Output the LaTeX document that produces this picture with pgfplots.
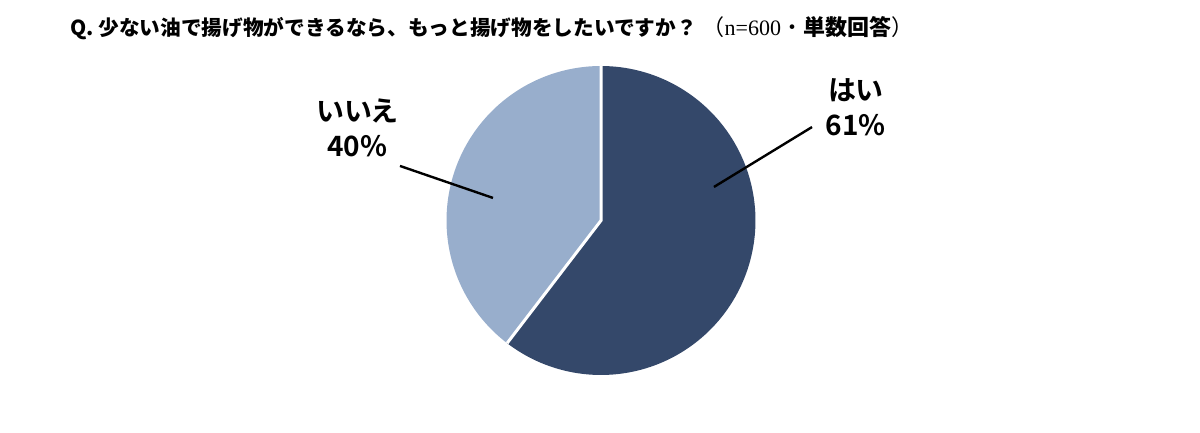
\documentclass[border=0pt]{standalone}
\usepackage{pgfplots}
\pgfplotsset{compat=1.18}
\usepackage{pgfplotstable}
\usepackage{fontspec}
\setmainfont{Noto Sans CJK JP}
\newfontfamily\cjk{Noto Sans CJK JP}
\newfontfamily\cjkp{Noto Sans CJK JP Bold}[RawFeature=+palt]
\newfontfamily\serif{Liberation Serif}
\definecolor{navy}{HTML}{34486A}
\definecolor{pale}{HTML}{98AECC}

% answer shares (labels in the chart read 61 / 40)
\pgfplotstableread{
answer value
yes 61
no 40
}\piedata

\begin{document}
\begin{tikzpicture}
\path[use as bounding box] (0,0) rectangle (600pt,216.5pt);
\node[anchor=west, inner sep=0pt, font=\cjk\bfseries\fontsize{10.33pt}{12pt}\selectfont]
  at (35pt,202.5pt) {Q. 少ない油で揚げ物ができるなら、もっと揚げ物をしたいですか？\hspace{3pt}{\fontsize{11pt}{12pt}\selectfont {\mdseries （{\serif n=600}・}単数回答{\mdseries ）}}};

\pgfplotstablegetelem{0}{value}\of\piedata \let\va\pgfplotsretval
\pgfplotstablegetelem{1}{value}\of\piedata \let\vb\pgfplotsretval
\pgfmathsetmacro\share{\va/(\va+\vb)}
\pgfmathsetmacro\split{90-360*\share}
\pgfmathsetmacro\splitb{\split+360}

\begin{axis}[at={(300.5pt,106.25pt)}, anchor=center,
  scale only axis, width=154.5pt, height=154.5pt,
  hide axis, clip=false,
  xmin=-1, xmax=1, ymin=-1, ymax=1]
  \addplot[fill=navy, draw=none, data cs=polar, domain=\split:90, samples=121]
    (x,1) -- (axis cs:0,0) -- cycle;
  \addplot[fill=pale, draw=none, data cs=polar, domain=90:\splitb, samples=91]
    (x,1) -- (axis cs:0,0) -- cycle;
  \addplot[white, line width=1.5pt, data cs=polar] coordinates {(90,1) (0,0) (\split,1)};

  \draw[black, line width=1.2pt] (axis cs:-1.301,0.353) -- (axis cs:-0.699,0.146);
  \draw[black, line width=1.2pt] (axis cs:1.366,0.605) -- (axis cs:0.731,0.217);
  \node[align=center, font=\cjkp\fontsize{14pt}{17.5pt}\selectfont]
    at (axis cs:-1.579,0.599) {いいえ\\40\%};
  \node[align=center, font=\cjkp\fontsize{14pt}{17.5pt}\selectfont]
    at (axis cs:1.650,0.731) {はい\\61\%};
\end{axis}
\end{tikzpicture}
\end{document}
